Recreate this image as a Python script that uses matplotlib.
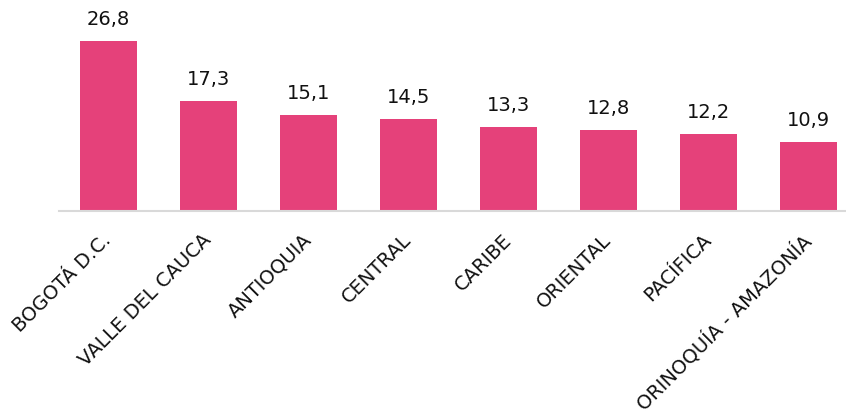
import matplotlib
matplotlib.use('Agg')
import matplotlib.pyplot as plt
from matplotlib.transforms import ScaledTranslation

# regiones y valores (%)
regiones = ['BOGOTÁ D.C.', 'VALLE DEL CAUCA', 'ANTIOQUIA', 'CENTRAL',
            'CARIBE', 'ORIENTAL', 'PACÍFICA', 'ORINOQUÍA - AMAZONÍA']
valores = [26.8, 17.3, 15.1, 14.5, 13.3, 12.8, 12.2, 10.9]

color_barra = '#E5417A'

fig = plt.figure(figsize=(8.46, 4.12), dpi=100)
# el eje se extiende un poco mas alla del borde derecho
ax = fig.add_axes([58.5 / 846, 1 - 211 / 412, 800 / 846, 190 / 412])

x = list(range(len(regiones)))
barras = ax.bar(x, valores, width=0.57, color=color_barra, zorder=2)

for b, v in zip(barras, valores):
    ax.text(b.get_x() + b.get_width() / 2, v + 1.9, f'{v:.1f}'.replace('.', ','),
            ha='center', va='bottom', fontsize=14, color='#111111')

ax.set_xlim(-0.5, len(regiones) - 0.5)
ax.set_ylim(0, 30)
ax.set_xticks(x)
ax.set_xticklabels(regiones, rotation=45, ha='right', rotation_mode='anchor',
                   fontsize=14, color='#111111')
ax.tick_params(axis='x', length=0, pad=14)
ax.set_yticks([])

# correr un poco las etiquetas hacia la izquierda
desplazar = ScaledTranslation(-5 / 72, 0, fig.dpi_scale_trans)
for lbl in ax.get_xticklabels():
    lbl.set_transform(lbl.get_transform() + desplazar)

for s in ['top', 'right', 'left']:
    ax.spines[s].set_visible(False)
ax.spines['bottom'].set_color('#D9D9D9')
ax.spines['bottom'].set_linewidth(1.5)

fig.savefig('out.png', dpi=100)
